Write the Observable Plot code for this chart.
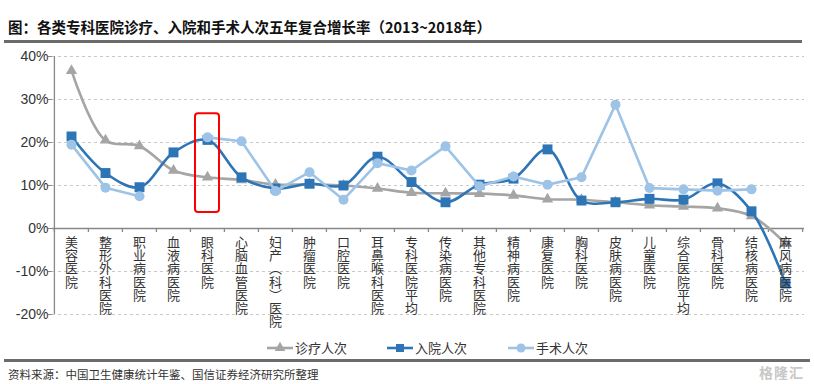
<!DOCTYPE html>
<html>
<head>
<meta charset="utf-8">
<script src="https://cdn.jsdelivr.net/npm/d3@7"></script>
<script src="https://cdn.jsdelivr.net/npm/@observablehq/plot@0.6"></script>
<style>
  html, body { margin: 0; padding: 0; background: #fff; }
  #wrap { position: relative; width: 814px; height: 384px; overflow: hidden; font-family: "Noto Sans CJK SC", "Noto Sans", sans-serif; }
  #chart { position: absolute; left: 0; top: 0; }
  .title { position: absolute; left: 8px; top: 16px; font-size: 14.5px; font-weight: bold; color: #111; white-space: nowrap; }
  .rule { position: absolute; left: 4px; width: 798px; height: 3px; background: #6b6b6b; }
  .legend-item { position: absolute; top: 338px; display: flex; align-items: center; font-size: 13px; color: #333; }
  .legend-item svg { margin-right: 2px; }
  .source { position: absolute; left: 8px; top: 366px; font-size: 11.5px; color: #333; white-space: nowrap; }
  .mark { position: absolute; right: 10px; top: 363px; font-size: 14px; line-height: 18px; color: #c8c8c8; font-weight: bold; letter-spacing: 1px; }
</style>
</head>
<body>
<div id="wrap">
  <div id="chart"></div>
  <div class="title">图：各类专科医院诊疗、入院和手术人次五年复合增长率（2013~2018年）</div>
  <div class="rule" style="top:40px"></div>
  <div id="legend"></div>
  <div class="rule" style="top:359px;width:806px"></div>
  <div class="source">资料来源：中国卫生健康统计年鉴、国信证券经济研究所整理</div>
  <div class="mark">格隆汇</div>
</div>
<script>
const categories = ["美容医院","整形外科医院","职业病医院","血液病医院","眼科医院","心脑血管医院","妇产(科)医院","肿瘤医院","口腔医院","耳鼻喉科医院","专科医院平均","传染病医院","其他专科医院","精神病医院","康复医院","胸科医院","皮肤病医院","儿童医院","综合医院平均","骨科医院","结核病医院","麻风病医院"];
const visits     = [36.7, 20.5, 19.2, 13.5, 11.9, 11.3, 10.2, 10.3, 10.0, 9.3, 8.3, 8.2, 8.1, 7.7, 6.8, 6.7, 6.1, 5.4, 5.1, 4.7, 2.9, -3.5];
const admissions = [21.4, 12.9, 9.6, 17.7, 20.6, 11.9, 9.3, 10.4, 10.0, 16.7, 10.8, 6.1, 10.2, 11.6, 18.4, 6.5, 6.1, 6.9, 6.7, 10.5, 4.0, -12.8];
const surgeries  = [19.5, 9.5, 7.5, null, 21.2, 20.3, 8.7, 13.1, 6.7, 15.2, 13.5, 19.1, 9.8, 12.1, 10.2, 11.9, 28.8, 9.4, 9.1, 8.8, 9.1, null];
const seriesNames = ["诊疗人次", "入院人次", "手术人次"];
const yTicks = [-20, -10, 0, 10, 20, 30, 40];
const highlight = [{cat: "眼科医院", y1: 3.7, y2: 26.7}];

const colors = {"诊疗人次": "#a5a5a5", "入院人次": "#2e75b6", "手术人次": "#9dc3e6"};
const rows = (vals, name) => categories.map((c, i) => ({cat: c, v: vals[i] == null ? NaN : vals[i], s: name}));
const dV = rows(visits, seriesNames[0]);
const dA = rows(admissions, seriesNames[1]);
const dS = rows(surgeries, seriesNames[2]);

// vertical label: one character per line, brackets turned to vertical forms
const verticalLabel = s => Array.from(s.replace("(", "︵").replace(")", "︶")).join("\n");

const W = 814, H = 384, mL = 52, mR = 10, mT = 56, mB = 70;
const bw = (W - mL - mR) / categories.length;

const chart = Plot.plot({
  width: W, height: H,
  marginLeft: mL, marginRight: mR, marginTop: mT, marginBottom: mB,
  style: {fontFamily: "'Liberation Sans', Arial, sans-serif", background: "transparent"},
  x: {type: "point", domain: categories, padding: 0.5, axis: null},
  y: {domain: [-20, 40], axis: null},
  marks: [
    Plot.gridY(yTicks.filter(d => d !== 0), {stroke: "#c8c8c8", strokeOpacity: 1, strokeDasharray: "3,3"}),
    Plot.axisY(yTicks, {tickSize: 4, tickPadding: 0, tickFormat: d => d + "%", fontSize: 14, fill: "#333", stroke: "#888"}),
    Plot.ruleX([categories[0]], {dx: -bw / 2, stroke: "#888", strokeWidth: 1.3}),
    Plot.ruleY([0], {stroke: "#888", strokeWidth: 1.5}),
    Plot.ruleX(categories, {x: d => d, dx: -bw / 2, y1: d => 0, y2: d => 0, insetBottom: -4, stroke: "#888", strokeWidth: 1.3}),
    Plot.ruleX([categories[categories.length - 1]], {x: d => d, dx: bw / 2, y1: d => 0, y2: d => 0, insetBottom: -4, stroke: "#888", strokeWidth: 1.3}),
    Plot.line(dV, {x: "cat", y: "v", stroke: colors["诊疗人次"], strokeWidth: 2.6, curve: "catmull-rom"}),
    Plot.dot(dV, {x: "cat", y: "v", symbol: "triangle", r: 4.2, fill: colors["诊疗人次"], stroke: "none"}),
    Plot.line(dA, {x: "cat", y: "v", stroke: colors["入院人次"], strokeWidth: 2.6, curve: "catmull-rom"}),
    Plot.dot(dA, {x: "cat", y: "v", symbol: "square", r: 5.6, fill: colors["入院人次"], stroke: "none"}),
    Plot.line(dS, {x: "cat", y: "v", stroke: colors["手术人次"], strokeWidth: 2.6}),
    Plot.dot(dS.filter(d => !isNaN(d.v)), {x: "cat", y: "v", r: 5, fill: colors["手术人次"], stroke: "none"}),
    Plot.rect(highlight, {x1: "cat", x2: "cat", y1: "y1", y2: "y2", insetLeft: -12, insetRight: -12, fill: "none", stroke: "#ff0000", strokeWidth: 2, rx: 3}),
    Plot.text(categories, {x: d => d, y: d => 0, text: d => verticalLabel(d), dy: 9, textAnchor: "middle", lineAnchor: "top", lineHeight: 1.02, fontSize: 13, fill: "#333", fontFamily: "'Noto Sans CJK SC', sans-serif"})
  ]
});
document.getElementById("chart").appendChild(chart);

// legend
const legendPos = [267, 387, 508];
const symbols = {"诊疗人次": d3.symbolTriangle, "入院人次": d3.symbolSquare, "手术人次": d3.symbolCircle};
const symSize = {"诊疗人次": 50, "入院人次": 64, "手术人次": 64};
const leg = d3.select("#legend");
seriesNames.forEach((name, i) => {
  const item = leg.append("div").attr("class", "legend-item").style("left", legendPos[i] + "px");
  const svg = item.append("svg").attr("width", 26).attr("height", 16);
  svg.append("line").attr("x1", 0).attr("x2", 26).attr("y1", 8).attr("y2", 8).attr("stroke", colors[name]).attr("stroke-width", 2.6);
  svg.append("path").attr("transform", "translate(13,8)").attr("d", d3.symbol(symbols[name], symSize[name])()).attr("fill", colors[name]);
  item.append("span").text(name);
});
</script>
</body>
</html>
